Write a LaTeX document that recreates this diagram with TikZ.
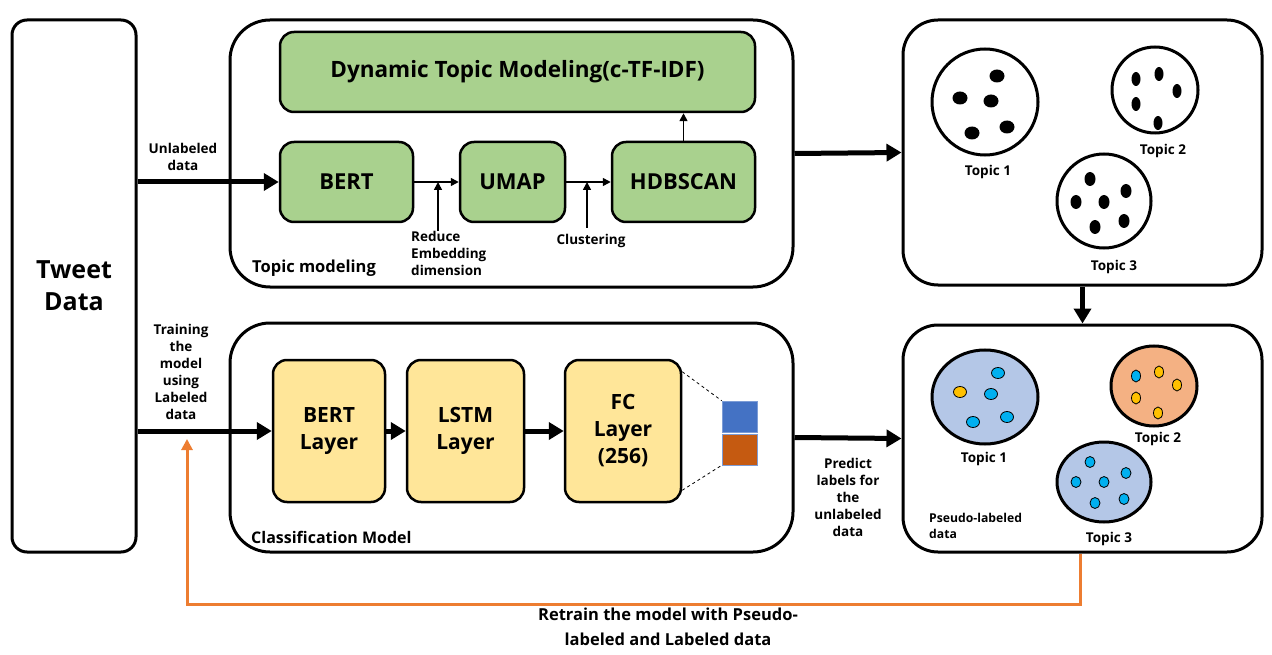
\documentclass[tikz,border=0pt]{standalone}
\usepackage{fontspec}
\setmainfont{Open Sans}
\usetikzlibrary{arrows.meta}

\definecolor{grnfill}{HTML}{A9D18E}
\definecolor{ylwfill}{HTML}{FFE699}
\definecolor{clblue}{HTML}{B4C7E7}
\definecolor{clorange}{HTML}{F4B183}
\definecolor{dotblue}{HTML}{00B0F0}
\definecolor{dotyellow}{HTML}{FFC000}
\definecolor{sqblue}{HTML}{4472C4}
\definecolor{sqorange}{HTML}{C55A11}
\definecolor{retrain}{HTML}{ED7D31}

\begin{document}
\begin{tikzpicture}[x=1pt,y=-1pt,
  bigbox/.style={draw,line width=3pt,rounded corners=#1},
  grnbox/.style={draw,line width=2.5pt,rounded corners=14pt,fill=grnfill,
    font=\fontsize{22}{26}\selectfont\bfseries},
  ylwbox/.style={draw,line width=2.5pt,rounded corners=14pt,fill=ylwfill,align=center,
    minimum height=142pt,font=\fontsize{21}{27}\selectfont\bfseries},
  lbl/.style={font=\fontsize{13.5}{17}\selectfont\bfseries,align=center,inner sep=0pt},
  fat/.style={line width=5pt,-{Triangle[length=15pt,width=17pt]}},
  slim/.style={line width=1.6pt,-{Triangle[length=8pt,width=8pt]}},
  sq/.style={draw=sqblue!70,line width=0.6pt,minimum width=35pt,minimum height=31pt,inner sep=0pt}]

\useasboundingbox (0,0) rectangle (1272,655);

% left input
\node[bigbox=15pt,minimum width=124pt,minimum height=532pt,
  font=\fontsize{25}{32}\selectfont\bfseries,align=center] (tweet) at (74,286) {Tweet\\Data};

% topic modeling part
\node[bigbox=40pt,minimum width=563pt,minimum height=267pt] (tm) at (511.5,153.5) {};
\node[grnbox,minimum width=475pt,minimum height=80pt,font=\fontsize{22.5}{26}\selectfont\bfseries] (dtm) at (517.5,72) {Dynamic Topic Modeling(c-TF-IDF)};
\node[grnbox,minimum width=133pt,minimum height=80pt] (bert) at (346.5,182) {BERT};
\node[grnbox,minimum width=105pt,minimum height=80pt] (umap) at (512.5,182) {UMAP};
\node[grnbox,minimum width=143pt,minimum height=80pt] (hdb) at (683.5,182) {HDBSCAN};
\draw[slim] (bert) -- (umap);
\draw[slim] (umap) -- (hdb);
\draw[slim] (hdb.north) -- (dtm.south -| hdb.north);

\coordinate (r1) at (438,231);
\coordinate (r2) at (587,228);
\draw[slim] (r1) -- (r1 |- bert.east);
\draw[slim] (r2) -- (r2 |- umap.east);
\node[lbl,align=left,anchor=north west] (reduce) at (411,231) {Reduce\\Embedding\\dimension};
\node[lbl] (clus) at (591,241) {Clustering};
\node[font=\fontsize{16.5}{20}\selectfont\bfseries,anchor=west,inner sep=0pt] (tmlbl) at (252,268) {Topic modeling};

\draw[fat] (tweet.east |- bert.west) -- (bert.west);
\node[lbl] (unl) at (183,157) {Unlabeled\\data};

% classification part
\node[bigbox=40pt,minimum width=563pt,minimum height=229pt] (cm) at (511.5,437.5) {};
\node[ylwbox,minimum width=112pt] (bl) at (329,431) {BERT\\Layer};
\node[ylwbox,minimum width=117pt] (ll) at (465.5,431) {LSTM\\Layer};
\node[ylwbox,minimum width=116pt] (fc) at (623,431) {FC\\Layer\\(256)};
\draw[fat] (bl) -- (ll);
\draw[fat] (ll) -- (fc);
\node[sq,fill=sqblue] (o1) at (739.5,416.5) {};
\node[sq,fill=sqorange] (o2) at (739.5,449.5) {};
\draw[dashed,line width=0.8pt] ([yshift=-13pt]fc.north east) -- (o1.north west);
\draw[dashed,line width=0.8pt] ([yshift=13pt]fc.south east) -- (o2.south west);
\node[font=\fontsize{16}{20}\selectfont\bfseries,anchor=west,inner sep=0pt] (cmlbl) at (251,537) {Classification Model};

\draw[fat] (tweet.east |- bl.west) -- (bl.west);
\node[lbl] (train) at (181,372) {Training\\the\\model\\using\\Labeled\\data};

% topics
\node[bigbox=35pt,minimum width=359pt,minimum height=265pt] (topics) at (1082.5,152.5) {};
\draw[fat] (tm.east) -- (topics.west);
\draw[line width=3pt] (985,102) circle[radius=53] (1155,90) circle[radius=43] (1104,201) circle[radius=47];
\foreach \x/\y in {997/76,960/98,991/101,972/133,1007/127}
  \fill (\x,\y) ellipse[x radius=7.5,y radius=6.5];
\foreach \x/\y in {1136/79,1159/74,1177/91,1136/104,1158/123}
  \fill (\x,\y) ellipse[x radius=4.5,y radius=7];
\foreach \x/\y in {1090/179,1126/191,1076/202,1104/202,1124/221,1095/227}
  \fill (\x,\y) ellipse[x radius=5.5,y radius=7];
\node[lbl] (t1) at (988,172) {Topic 1};
\node[lbl] (t2) at (1163,151) {Topic 2};
\node[lbl] (t3) at (1114,267) {Topic 3};

% pseudo labeled
\node[bigbox=35pt,minimum width=359pt,minimum height=227pt] (pseudo) at (1082.5,438.5) {};
\draw[fat] (topics.south) -- (pseudo.north);
\draw[fat] (cm.east) -- (pseudo.west);
\node[lbl] (pred) at (848,497) {Predict\\labels for\\the\\unlabeled\\data};
\draw[line width=3pt,fill=clblue] (985,397) ellipse[x radius=53,y radius=47];
\draw[line width=3pt,fill=clorange] (1154,386) ellipse[x radius=43,y radius=40];
\draw[line width=3pt,fill=clblue] (1104,482) ellipse[x radius=47,y radius=40];
\foreach \x/\y/\c in {998/373/dotblue,960/392/dotyellow,991/394/dotblue,973/422/dotblue,1007/417/dotblue}
  \filldraw[fill=\c,line width=0.8pt] (\x,\y) ellipse[x radius=6.5,y radius=5.5];
\foreach \x/\y/\c in {1136/376/dotblue,1159/372/dotyellow,1177/385/dotyellow,1136/398/dotyellow,1158/413/dotyellow}
  \filldraw[fill=\c,line width=0.8pt] (\x,\y) ellipse[x radius=4.5,y radius=6];
\foreach \x/\y in {1090/462,1126/473,1076/482,1104/482,1124/499,1095/503}
  \filldraw[fill=dotblue,line width=0.8pt] (\x,\y) ellipse[x radius=5,y radius=5.5];
\node[lbl] (p1) at (984,459) {Topic 1};
\node[lbl] (p2) at (1158,439) {Topic 2};
\node[lbl] (p3) at (1109,539) {Topic 3};
\node[lbl,align=left,anchor=north west,font=\fontsize{12.2}{16}\selectfont\bfseries] (pslbl) at (929,513) {Pseudo-labeled\\data};

% retrain loop
\coordinate (fb) at (187,439);
\draw[retrain,line width=3pt,-{Triangle[length=11pt,width=11pt]}] (pseudo.south -| 1080,0) -- ++(0,51) -| (fb);
\node[font=\fontsize{16.5}{25}\selectfont\bfseries,align=center] (rt) at (668,627) {Retrain the model with Pseudo-\\labeled and Labeled data};

\end{tikzpicture}
\end{document}
